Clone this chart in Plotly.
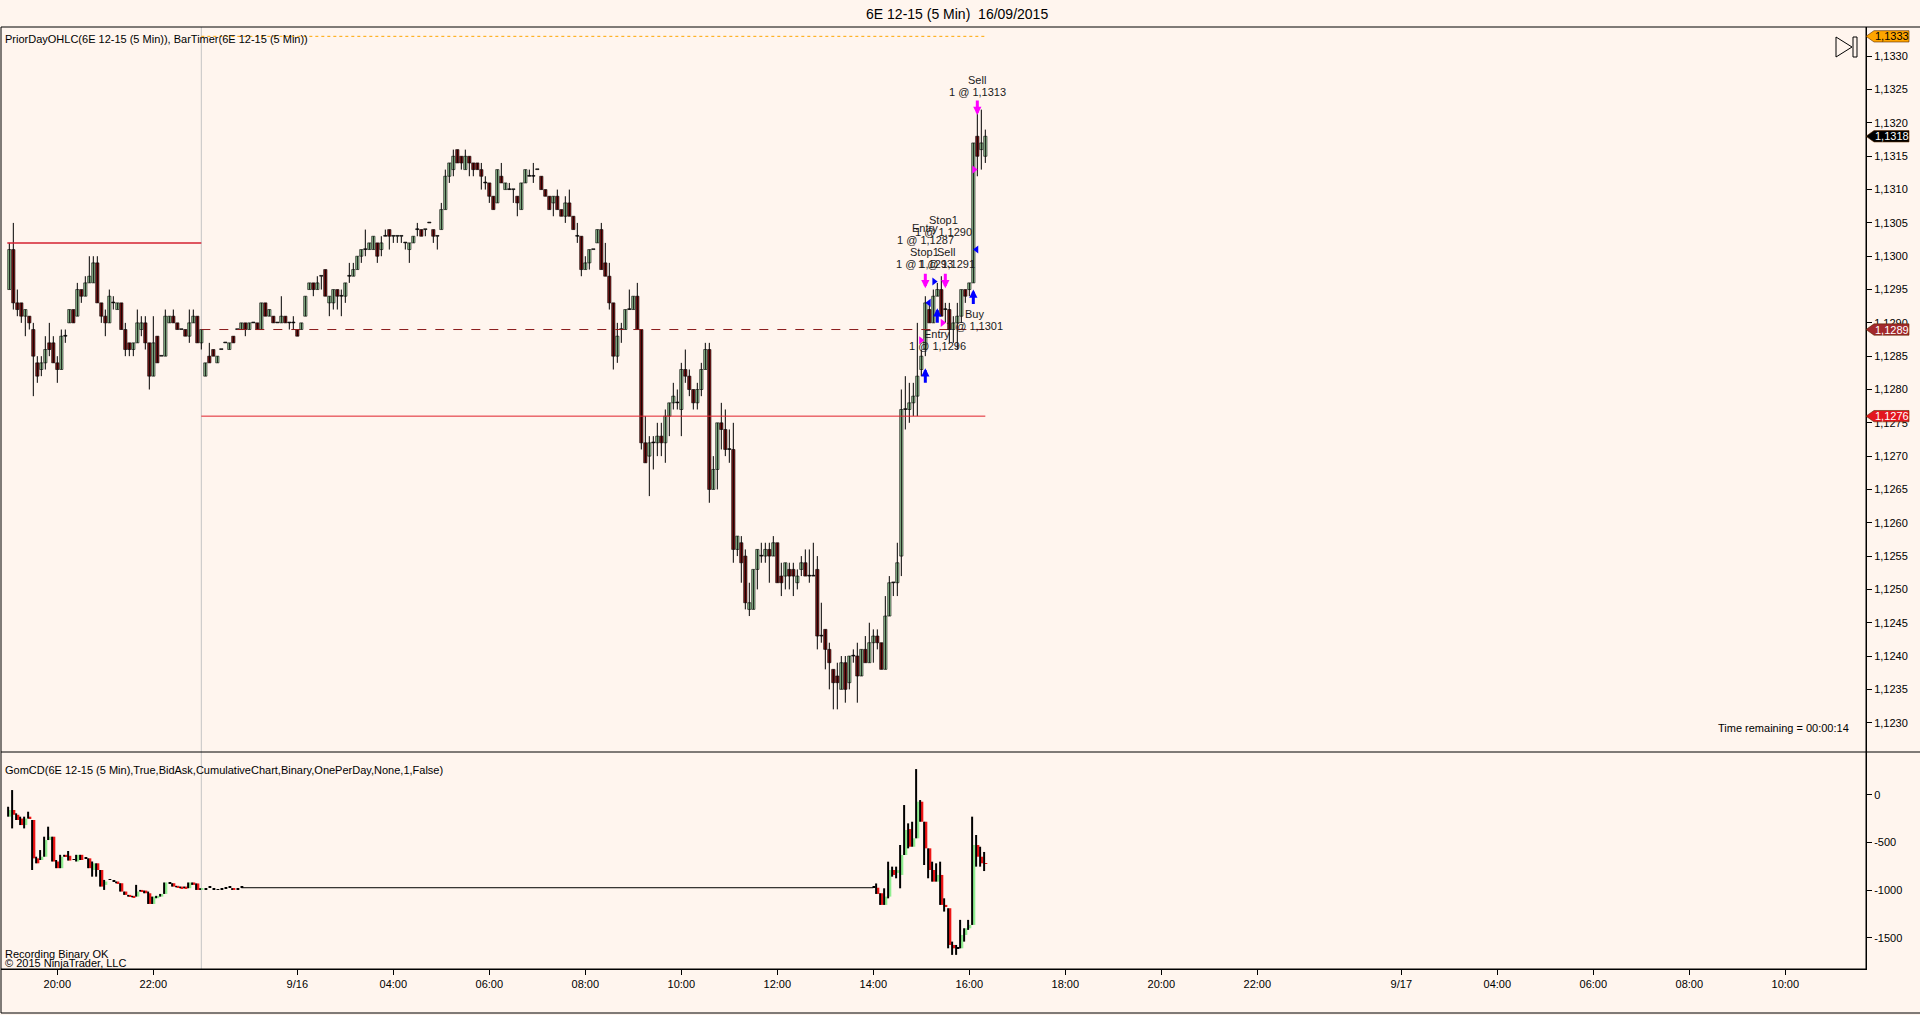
import plotly.graph_objects as go

# ---- main panel: 5 min candles of 6E 12-15, one entry per bar (bar index = position)
price_open = [
    1.1295, 1.1301, 1.1293, 1.1293, 1.1291, 1.1291, 1.1289, 1.1284, 1.1283, 1.1284,
    1.1287, 1.1287, 1.1284, 1.1283, 1.1288, 1.1290, 1.1292, 1.1291, 1.1295, 1.1294,
    1.1296, 1.1296, 1.1299, 1.1293, 1.1291, 1.1290, 1.1293, 1.1292, 1.1293, 1.1289,
    1.1287, 1.1286, 1.1287, 1.1289, 1.1290, 1.1287, 1.1282, 1.1288, 1.1285, 1.1285,
    1.1290, 1.1291, 1.1290, 1.1289, 1.1289, 1.1288, 1.1290, 1.1291, 1.1287, 1.1282,
    1.1285, 1.1286, 1.1284, 1.1286, 1.1287, 1.1286, 1.1288, 1.1289, 1.1289, 1.1290,
    1.1289, 1.1290, 1.1290, 1.1289, 1.1293, 1.1291, 1.1291, 1.1290, 1.1290, 1.1291,
    1.1290, 1.1290, 1.1289, 1.1289, 1.1291, 1.1295, 1.1296, 1.1295, 1.1297, 1.1298,
    1.1293, 1.1293, 1.1295, 1.1294, 1.1294, 1.1297, 1.1297, 1.1298, 1.1300, 1.1301,
    1.1301, 1.1301, 1.1302, 1.1301, 1.1303, 1.1304, 1.1303, 1.1303, 1.1303, 1.1302,
    1.1301, 1.1302, 1.1304, 1.1304, 1.1304, 1.1305, 1.1304, 1.1303, 1.1304, 1.1307,
    1.1312, 1.1313, 1.1316, 1.1315, 1.1313, 1.1315, 1.1314, 1.1314, 1.1313, 1.1311,
    1.1311, 1.1309, 1.1308, 1.1312, 1.1310, 1.1310, 1.1310, 1.1309, 1.1307, 1.1311,
    1.1312, 1.1312, 1.1313, 1.1312, 1.1310, 1.1309, 1.1308, 1.1309, 1.1307, 1.1306,
    1.1308, 1.1306, 1.1303, 1.1303, 1.1298, 1.1299, 1.1301, 1.1302, 1.1304, 1.1299,
    1.1297, 1.1293, 1.1285, 1.1289, 1.1289, 1.1292, 1.1292, 1.1294, 1.1289, 1.1272,
    1.1270, 1.1272, 1.1272, 1.1273, 1.1272, 1.1276, 1.1278, 1.1278, 1.1277, 1.1283,
    1.1282, 1.1280, 1.1278, 1.1280, 1.1283, 1.1286, 1.1265, 1.1268, 1.1275, 1.1274,
    1.1271, 1.1271, 1.1256, 1.1257, 1.1255, 1.1247, 1.1247, 1.1253, 1.1255, 1.1255,
    1.1256, 1.1255, 1.1257, 1.1252, 1.1252, 1.1253, 1.1253, 1.1251, 1.1253, 1.1254,
    1.1252, 1.1252, 1.1253, 1.1243, 1.1244, 1.1241, 1.1238, 1.1237, 1.1235, 1.1239,
    1.1236, 1.1240, 1.1240, 1.1237, 1.1241, 1.1239, 1.1242, 1.1243, 1.1242, 1.1238,
    1.1246, 1.1251, 1.1251, 1.1255, 1.1277, 1.1277, 1.1278, 1.1279, 1.1283, 1.1286,
    1.1292, 1.1290, 1.1294, 1.1295, 1.1292, 1.1292, 1.1289, 1.1290, 1.1291, 1.1295,
    1.1295, 1.1296, 1.1318, 1.1316, 1.1315,
]
price_high = [
    1.1302, 1.1305, 1.1295, 1.1293, 1.1292, 1.1291, 1.1290, 1.1285, 1.1285, 1.1288,
    1.1290, 1.1288, 1.1285, 1.1289, 1.1289, 1.1292, 1.1292, 1.1296, 1.1295, 1.1297,
    1.1300, 1.1300, 1.1300, 1.1293, 1.1292, 1.1295, 1.1294, 1.1293, 1.1293, 1.1290,
    1.1287, 1.1287, 1.1292, 1.1291, 1.1291, 1.1287, 1.1291, 1.1288, 1.1285, 1.1292,
    1.1291, 1.1292, 1.1290, 1.1289, 1.1289, 1.1292, 1.1292, 1.1291, 1.1289, 1.1284,
    1.1287, 1.1286, 1.1285, 1.1286, 1.1287, 1.1287, 1.1288, 1.1289, 1.1290, 1.1290,
    1.1290, 1.1290, 1.1290, 1.1293, 1.1293, 1.1292, 1.1291, 1.1290, 1.1294, 1.1291,
    1.1290, 1.1291, 1.1289, 1.1290, 1.1294, 1.1296, 1.1296, 1.1297, 1.1297, 1.1298,
    1.1294, 1.1295, 1.1295, 1.1295, 1.1296, 1.1299, 1.1299, 1.1300, 1.1301, 1.1304,
    1.1302, 1.1303, 1.1302, 1.1303, 1.1304, 1.1304, 1.1303, 1.1303, 1.1303, 1.1302,
    1.1302, 1.1303, 1.1305, 1.1304, 1.1304, 1.1305, 1.1304, 1.1303, 1.1308, 1.1313,
    1.1314, 1.1316, 1.1316, 1.1315, 1.1316, 1.1315, 1.1314, 1.1314, 1.1314, 1.1312,
    1.1311, 1.1309, 1.1313, 1.1314, 1.1311, 1.1311, 1.1310, 1.1309, 1.1311, 1.1313,
    1.1313, 1.1314, 1.1313, 1.1312, 1.1310, 1.1309, 1.1309, 1.1310, 1.1307, 1.1309,
    1.1310, 1.1306, 1.1305, 1.1303, 1.1300, 1.1301, 1.1301, 1.1304, 1.1305, 1.1302,
    1.1299, 1.1293, 1.1290, 1.1290, 1.1292, 1.1295, 1.1294, 1.1296, 1.1289, 1.1276,
    1.1273, 1.1273, 1.1275, 1.1275, 1.1277, 1.1278, 1.1281, 1.1280, 1.1284, 1.1286,
    1.1283, 1.1280, 1.1281, 1.1284, 1.1287, 1.1287, 1.1270, 1.1275, 1.1278, 1.1277,
    1.1274, 1.1275, 1.1258, 1.1258, 1.1256, 1.1251, 1.1253, 1.1256, 1.1257, 1.1257,
    1.1257, 1.1258, 1.1257, 1.1254, 1.1254, 1.1254, 1.1254, 1.1253, 1.1255, 1.1256,
    1.1256, 1.1257, 1.1255, 1.1248, 1.1244, 1.1242, 1.1238, 1.1239, 1.1240, 1.1240,
    1.1240, 1.1241, 1.1242, 1.1241, 1.1243, 1.1245, 1.1244, 1.1244, 1.1242, 1.1249,
    1.1252, 1.1251, 1.1257, 1.1280, 1.1282, 1.1281, 1.1281, 1.1290, 1.1286, 1.1294,
    1.1293, 1.1295, 1.1296, 1.1297, 1.1293, 1.1293, 1.1291, 1.1293, 1.1295, 1.1295,
    1.1296, 1.1317, 1.1323, 1.1322, 1.1319,
]
price_low = [
    1.1295, 1.1292, 1.1291, 1.1290, 1.1288, 1.1289, 1.1279, 1.1281, 1.1282, 1.1283,
    1.1285, 1.1284, 1.1281, 1.1283, 1.1287, 1.1290, 1.1290, 1.1291, 1.1293, 1.1294,
    1.1296, 1.1296, 1.1293, 1.1290, 1.1288, 1.1290, 1.1292, 1.1292, 1.1289, 1.1285,
    1.1285, 1.1285, 1.1287, 1.1288, 1.1286, 1.1280, 1.1282, 1.1284, 1.1285, 1.1285,
    1.1290, 1.1290, 1.1289, 1.1289, 1.1288, 1.1287, 1.1290, 1.1287, 1.1286, 1.1282,
    1.1284, 1.1285, 1.1284, 1.1286, 1.1287, 1.1286, 1.1287, 1.1289, 1.1289, 1.1288,
    1.1289, 1.1290, 1.1289, 1.1289, 1.1291, 1.1291, 1.1290, 1.1290, 1.1290, 1.1290,
    1.1289, 1.1289, 1.1288, 1.1289, 1.1291, 1.1295, 1.1294, 1.1295, 1.1295, 1.1294,
    1.1291, 1.1292, 1.1292, 1.1291, 1.1293, 1.1296, 1.1297, 1.1298, 1.1299, 1.1300,
    1.1301, 1.1301, 1.1299, 1.1300, 1.1303, 1.1301, 1.1302, 1.1302, 1.1302, 1.1301,
    1.1299, 1.1302, 1.1303, 1.1303, 1.1303, 1.1305, 1.1302, 1.1301, 1.1304, 1.1307,
    1.1311, 1.1312, 1.1314, 1.1313, 1.1313, 1.1312, 1.1312, 1.1313, 1.1310, 1.1310,
    1.1308, 1.1307, 1.1308, 1.1311, 1.1310, 1.1310, 1.1308, 1.1306, 1.1307, 1.1311,
    1.1312, 1.1311, 1.1313, 1.1310, 1.1309, 1.1307, 1.1306, 1.1307, 1.1306, 1.1305,
    1.1306, 1.1304, 1.1302, 1.1297, 1.1298, 1.1298, 1.1301, 1.1302, 1.1298, 1.1297,
    1.1292, 1.1283, 1.1284, 1.1287, 1.1289, 1.1292, 1.1292, 1.1289, 1.1271, 1.1269,
    1.1264, 1.1268, 1.1270, 1.1270, 1.1269, 1.1273, 1.1277, 1.1277, 1.1273, 1.1281,
    1.1279, 1.1277, 1.1277, 1.1279, 1.1283, 1.1263, 1.1265, 1.1265, 1.1271, 1.1270,
    1.1269, 1.1254, 1.1255, 1.1251, 1.1247, 1.1246, 1.1247, 1.1250, 1.1254, 1.1254,
    1.1251, 1.1255, 1.1251, 1.1249, 1.1250, 1.1250, 1.1249, 1.1250, 1.1252, 1.1252,
    1.1251, 1.1252, 1.1241, 1.1242, 1.1238, 1.1235, 1.1232, 1.1232, 1.1235, 1.1233,
    1.1235, 1.1239, 1.1233, 1.1237, 1.1239, 1.1239, 1.1239, 1.1241, 1.1238, 1.1238,
    1.1246, 1.1249, 1.1249, 1.1252, 1.1274, 1.1275, 1.1276, 1.1276, 1.1282, 1.1285,
    1.1290, 1.1290, 1.1294, 1.1291, 1.1290, 1.1287, 1.1287, 1.1286, 1.1290, 1.1293,
    1.1294, 1.1296, 1.1312, 1.1313, 1.1314,
]
price_close = [
    1.1301, 1.1293, 1.1292, 1.1291, 1.1292, 1.1290, 1.1285, 1.1282, 1.1284, 1.1286,
    1.1286, 1.1284, 1.1283, 1.1288, 1.1288, 1.1292, 1.1290, 1.1295, 1.1294, 1.1296,
    1.1297, 1.1299, 1.1293, 1.1291, 1.1290, 1.1294, 1.1293, 1.1293, 1.1289, 1.1286,
    1.1286, 1.1287, 1.1290, 1.1290, 1.1287, 1.1282, 1.1287, 1.1284, 1.1285, 1.1291,
    1.1291, 1.1290, 1.1289, 1.1289, 1.1288, 1.1290, 1.1291, 1.1287, 1.1289, 1.1284,
    1.1284, 1.1285, 1.1285, 1.1286, 1.1287, 1.1287, 1.1287, 1.1289, 1.1290, 1.1289,
    1.1290, 1.1290, 1.1289, 1.1293, 1.1291, 1.1292, 1.1290, 1.1290, 1.1291, 1.1290,
    1.1290, 1.1290, 1.1288, 1.1290, 1.1294, 1.1296, 1.1295, 1.1296, 1.1297, 1.1294,
    1.1294, 1.1295, 1.1294, 1.1294, 1.1296, 1.1297, 1.1298, 1.1300, 1.1301, 1.1301,
    1.1302, 1.1303, 1.1300, 1.1302, 1.1303, 1.1303, 1.1303, 1.1303, 1.1303, 1.1302,
    1.1302, 1.1303, 1.1304, 1.1303, 1.1304, 1.1305, 1.1303, 1.1303, 1.1307, 1.1312,
    1.1314, 1.1315, 1.1314, 1.1314, 1.1315, 1.1314, 1.1313, 1.1313, 1.1312, 1.1311,
    1.1309, 1.1307, 1.1313, 1.1311, 1.1311, 1.1310, 1.1310, 1.1308, 1.1311, 1.1313,
    1.1312, 1.1312, 1.1313, 1.1310, 1.1309, 1.1307, 1.1309, 1.1307, 1.1306, 1.1308,
    1.1306, 1.1304, 1.1303, 1.1298, 1.1299, 1.1301, 1.1301, 1.1304, 1.1298, 1.1297,
    1.1293, 1.1285, 1.1288, 1.1289, 1.1292, 1.1292, 1.1294, 1.1289, 1.1272, 1.1269,
    1.1272, 1.1272, 1.1273, 1.1272, 1.1276, 1.1278, 1.1279, 1.1278, 1.1283, 1.1282,
    1.1280, 1.1278, 1.1280, 1.1283, 1.1286, 1.1265, 1.1268, 1.1275, 1.1274, 1.1271,
    1.1271, 1.1256, 1.1258, 1.1254, 1.1248, 1.1248, 1.1253, 1.1256, 1.1255, 1.1256,
    1.1255, 1.1257, 1.1251, 1.1251, 1.1254, 1.1252, 1.1252, 1.1252, 1.1254, 1.1252,
    1.1252, 1.1252, 1.1243, 1.1243, 1.1241, 1.1239, 1.1236, 1.1236, 1.1239, 1.1235,
    1.1240, 1.1240, 1.1237, 1.1241, 1.1239, 1.1242, 1.1243, 1.1242, 1.1238, 1.1246,
    1.1251, 1.1251, 1.1254, 1.1277, 1.1277, 1.1278, 1.1279, 1.1282, 1.1285, 1.1293,
    1.1290, 1.1294, 1.1295, 1.1291, 1.1292, 1.1289, 1.1290, 1.1291, 1.1295, 1.1294,
    1.1296, 1.1317, 1.1315, 1.1317, 1.1318,
]

# ---- lower panel: GomCD cumulative delta (bars with recorded data only)
cd_bars = list(range(0, 59)) + list(range(216, 245))
cd_open = [
    -230, -160, -210, -250, -318, -230, -265, -667, -684, -650,
    -475, -440, -700, -770, -630, -640, -684, -700, -630, -667,
    -667, -789, -719, -789, -945, -893, -910, -910, -928, -1015,
    -1050, -1060, -1068, -998, -1005, -1033, -1145, -1085, -1068, -1040,
    -928, -928, -955, -963, -963, -980, -920, -930, -998, -990,
    -970, -990, -998, -990, -985, -975, -980, -990, -970,
    -975, -975, -1033, -1155, -1068, -789, -820, -841, -632, -360,
    -545, -457, -73, -283, -562, -789, -911, -841, -1155, -1190,
    -1575, -1610, -1610, -1470, -1400, -1365, -527, -650, -719,
]
cd_high = [
    -126, 49, -195, -230, -230, -178, -265, -650, -580, -440,
    -335, -440, -684, -630, -630, -590, -684, -630, -630, -667,
    -667, -700, -719, -789, -893, -893, -910, -910, -928, -1015,
    -1050, -1060, -945, -998, -1005, -1015, -1068, -1060, -1040, -920,
    -928, -928, -955, -963, -963, -920, -920, -930, -980, -990,
    -970, -990, -998, -990, -985, -975, -980, -990, -970,
    -975, -930, -1033, -981, -702, -754, -754, -527, -108, -300,
    -283, 269, -56, -283, -562, -702, -719, -702, -1086, -1190,
    -1540, -1575, -1312, -1400, -1312, -230, -422, -545, -600,
]
cd_low = [
    -230, -353, -265, -318, -353, -250, -789, -719, -684, -650,
    -475, -700, -770, -770, -650, -690, -684, -700, -684, -667,
    -770, -859, -859, -963, -998, -893, -910, -928, -1015, -1050,
    -1068, -1075, -1068, -1015, -1033, -1145, -1145, -1085, -1068, -1040,
    -928, -963, -970, -980, -980, -980, -945, -998, -998, -990,
    -970, -990, -998, -990, -985, -975, -998, -990, -970,
    -975, -1040, -1155, -1155, -1086, -859, -876, -981, -632, -562,
    -545, -457, -283, -737, -876, -911, -911, -1155, -1225, -1610,
    -1679, -1679, -1610, -1540, -1417, -1365, -754, -754, -800,
]
cd_close = [
    -160, -210, -265, -318, -250, -250, -667, -719, -650, -475,
    -440, -700, -770, -650, -650, -690, -684, -630, -684, -667,
    -770, -719, -789, -963, -910, -893, -910, -928, -1015, -1050,
    -1068, -1075, -1015, -1015, -1033, -1145, -1068, -1060, -1040, -920,
    -928, -963, -970, -980, -980, -920, -945, -998, -980, -990,
    -970, -990, -998, -990, -985, -975, -998, -990, -970,
    -975, -1040, -1155, -1068, -789, -841, -790, -632, -370, -545,
    -457, -73, -283, -562, -789, -911, -841, -1155, -1172, -1575,
    -1610, -1610, -1470, -1400, -1365, -527, -650, -719, -725,
]
# flat (unrecorded) stretch of the delta
cd_flat_level = -975
cd_flat_bars = [58, 216]

# ---- time axis
x_tick_bars = [12, 36, 72, 96, 120, 144, 168, 192, 216, 240, 264, 288, 312, 348, 372, 396, 420, 444]
x_tick_labels = ["20:00", "22:00", "9/16", "04:00", "06:00", "08:00", "10:00", "12:00", "14:00",
                 "16:00", "18:00", "20:00", "22:00", "9/17", "04:00", "06:00", "08:00", "10:00"]
session_start_bar = 48
last_bar = 244

# ---- prior day OHLC levels
prev_high_day1 = 1.1302
prior_high = 1.1333
prior_close = 1.1289
prior_low = 1.1276
last_price = 1.1318

price_ticks = [1.1230 + i * 0.0005 for i in range(21)]
cd_ticks = [0, -500, -1000, -1500]

# ---- executions
sell_arrow_x = [229, 234, 242]
sell_arrow_y = [1.12952, 1.12952, 1.13212]
buy_arrow_x = [229, 232, 241]
buy_arrow_y = [1.12832, 1.12922, 1.12950]
exec_x = [241.2, 233.3, 227.9, 231.2, 229.9, 241.8]
exec_y = [1.1313, 1.1290, 1.12874, 1.12962, 1.1293, 1.1301]
exec_side = ["sell", "sell", "sell", "buy", "buy", "buy"]
exec_symbol = ["triangle-right", "triangle-right", "triangle-right",
               "triangle-right", "triangle-left", "triangle-left"]
trade_label_x = [242, 233.5, 229, 228.7, 234.2, 241.2, 232]
trade_label_y = [1.13255, 1.13045, 1.13033, 1.12997, 1.12997, 1.12905, 1.12875]
trade_label_name = ["Sell", "Stop1", "Entry", "Stop1", "Sell", "Buy", "Entry"]
trade_label_price = [1.1313, 1.1290, 1.1287, 1.1293, 1.1291, 1.1301, 1.1296]


W, H = 1920, 1015
ML, MR, MT, MB = 1, 54, 27, 46
PW, PH = W - ML - MR, H - MT - MB
FONT = "Liberation Sans, Arial, sans-serif"
BG = "#FFF5EE"
UP_FILL, DOWN_FILL = "#A8DCA8", "#8E1A1A"
CD_UP, CD_DOWN = "#90EE90", "#EE1515"
MAGENTA, BLUE = "#FF00FF", "#0000FF"


def px_x(px):
    return (px - ML) / PW


def px_y(py):
    return (H - MB - py) / PH


def comma(p):
    return f"{p:.4f}".replace(".", ",")


SPLIT = px_y(752)

bars = list(range(len(price_close)))

fig = go.Figure()

# main panel wicks and bodies
wx, wy = [], []
for k, lo, hi in zip(bars, price_low, price_high):
    wx += [k, k, None]
    wy += [lo, hi, None]
fig.add_trace(go.Scatter(x=wx, y=wy, mode="lines", line=dict(color="black", width=1),
                         yaxis="y", hoverinfo="skip"))

body_base = [min(o, c) for o, c in zip(price_open, price_close)]
body_h = [max(abs(c - o), 0.000012) for o, c in zip(price_open, price_close)]
body_col = [UP_FILL if c > o else (DOWN_FILL if c < o else "black")
            for o, c in zip(price_open, price_close)]
fig.add_trace(go.Bar(x=bars, y=body_h, base=body_base, width=0.82, yaxis="y",
                     marker=dict(color=body_col, line=dict(color="black", width=0.6)),
                     hoverinfo="skip"))

# lower panel: flat delta line, wicks, bodies
fig.add_trace(go.Scatter(x=cd_flat_bars, y=[cd_flat_level] * 2, mode="lines",
                         line=dict(color="black", width=1), yaxis="y2", hoverinfo="skip"))
cwx, cwy = [], []
for k, lo, hi in zip(cd_bars, cd_low, cd_high):
    cwx += [k - 0.3, k - 0.3, None]
    cwy += [lo, hi, None]
fig.add_trace(go.Scatter(x=cwx, y=cwy, mode="lines", line=dict(color="black", width=2),
                         yaxis="y2", hoverinfo="skip"))
cd_base = [min(o, c) for o, c in zip(cd_open, cd_close)]
cd_h = [max(abs(c - o), 8) for o, c in zip(cd_open, cd_close)]
cd_col = [CD_UP if c > o else (CD_DOWN if c < o else "black") for o, c in zip(cd_open, cd_close)]
fig.add_trace(go.Bar(x=[k + 0.15 for k in cd_bars], y=cd_h, base=cd_base, width=0.7, yaxis="y2",
                     marker=dict(color=cd_col, line=dict(width=0)), hoverinfo="skip"))

# execution markers
fig.add_trace(go.Scatter(
    x=exec_x, y=exec_y, mode="markers", yaxis="y", hoverinfo="skip",
    marker=dict(symbol=exec_symbol, size=7,
                color=[MAGENTA if s == "sell" else BLUE for s in exec_side]),
))

shapes = [
    # panel borders
    dict(type="line", xref="paper", yref="paper", x0=0, x1=px_x(W), y0=1, y1=1,
         line=dict(color="black", width=1)),
    dict(type="line", xref="paper", yref="paper", x0=0, x1=px_x(W), y0=SPLIT, y1=SPLIT,
         line=dict(color="black", width=1)),
    dict(type="line", xref="paper", yref="paper", x0=0, x1=1, y0=0, y1=0,
         line=dict(color="black", width=1)),
    dict(type="line", xref="paper", yref="paper", x0=0, x1=0, y0=px_y(1013), y1=1,
         line=dict(color="black", width=1)),
    dict(type="line", xref="paper", yref="paper", x0=1, x1=1, y0=0, y1=1,
         line=dict(color="black", width=1)),
    dict(type="line", xref="paper", yref="paper", x0=0, x1=px_x(W), y0=px_y(1013), y1=px_y(1013),
         line=dict(color="black", width=1)),
    # session start
    dict(type="line", xref="x", yref="paper", x0=session_start_bar, x1=session_start_bar,
         y0=0, y1=1, line=dict(color="#C4C4C4", width=1), layer="below"),
    # prior day levels
    dict(type="line", xref="x", yref="y", x0=-0.5, x1=session_start_bar, y0=prev_high_day1,
         y1=prev_high_day1, line=dict(color="#D42030", width=1.5)),
    dict(type="line", xref="x", yref="y", x0=session_start_bar, x1=last_bar, y0=prior_high,
         y1=prior_high, line=dict(color="#FFA500", width=1, dash="dot")),
    dict(type="line", xref="x", yref="y", x0=session_start_bar, x1=last_bar, y0=prior_low,
         y1=prior_low, line=dict(color="#E0202A", width=1)),
    dict(type="line", xref="x", yref="y", x0=session_start_bar, x1=last_bar, y0=prior_close,
         y1=prior_close, line=dict(color="#8B1C1C", width=1, dash="dash")),
    # scroll-to-end icon
    dict(type="path", xref="paper", yref="paper",
         path=f"M {px_x(1836)},{px_y(37)} L {px_x(1852)},{px_y(47)} L {px_x(1836)},{px_y(57)} Z",
         line=dict(color="black", width=1), fillcolor="rgba(0,0,0,0)"),
    dict(type="rect", xref="paper", yref="paper", x0=px_x(1853), x1=px_x(1857),
         y0=px_y(57), y1=px_y(37), line=dict(color="black", width=1)),
]

annotations = [
    dict(text="PriorDayOHLC(6E 12-15 (5 Min)), BarTimer(6E 12-15 (5 Min))", xref="paper", yref="paper",
         x=px_x(3), y=px_y(39), xanchor="left", yanchor="middle", showarrow=False,
         font=dict(size=11, color="black")),
    dict(text="GomCD(6E 12-15 (5 Min),True,BidAsk,CumulativeChart,Binary,OnePerDay,None,1,False)",
         xref="paper", yref="paper", x=px_x(3), y=px_y(770), xanchor="left", yanchor="middle",
         showarrow=False, font=dict(size=11, color="black")),
    dict(text="Recording Binary OK", xref="paper", yref="paper", x=px_x(3), y=px_y(954),
         xanchor="left", yanchor="middle", showarrow=False, font=dict(size=11, color="black")),
    dict(text="© 2015 NinjaTrader, LLC", xref="paper", yref="paper", x=px_x(3), y=px_y(963),
         xanchor="left", yanchor="middle", showarrow=False, font=dict(size=11, color="black")),
    dict(text="Time remaining = 00:00:14", xref="paper", yref="paper", x=px_x(1851), y=px_y(728),
         xanchor="right", yanchor="middle", showarrow=False, font=dict(size=11, color="black")),
]

# price boxes on the right axis
mark_prices = [prior_high, last_price, prior_close, prior_low]
mark_fill = ["#FFA500", "#000000", "#A3282C", "#E3161E"]
mark_text = ["black", "white", "white", "white"]
hb = 0.000085
for p, fc, tc in zip(mark_prices, mark_fill, mark_text):
    shapes.append(dict(
        type="path", xref="paper", yref="y", fillcolor=fc, line=dict(color="#5a2a00", width=0.6),
        path=(f"M {px_x(1866)},{p} L {px_x(1874)},{p + hb} L {px_x(1909)},{p + hb} "
              f"L {px_x(1909)},{p - hb} L {px_x(1874)},{p - hb} Z"),
    ))
    annotations.append(dict(text=comma(p), xref="paper", yref="y", x=px_x(1892), y=p,
                            xanchor="center", yanchor="middle", showarrow=False,
                            font=dict(size=11, color=tc)))

# trade arrows (shaft + head)
for x, y in zip(sell_arrow_x, sell_arrow_y):
    annotations.append(dict(x=x, y=y, xref="x", yref="y", text="", showarrow=True, ax=0, ay=-16,
                            arrowhead=2, arrowsize=0.55, arrowwidth=3, arrowcolor=MAGENTA))
for x, y in zip(buy_arrow_x, buy_arrow_y):
    annotations.append(dict(x=x, y=y, xref="x", yref="y", text="", showarrow=True, ax=0, ay=16,
                            arrowhead=2, arrowsize=0.55, arrowwidth=3, arrowcolor=BLUE))

# trade labels
for x, y, name, p in zip(trade_label_x, trade_label_y, trade_label_name, trade_label_price):
    annotations.append(dict(x=x, y=y, xref="x", yref="y", text=name, showarrow=False,
                            yshift=6, font=dict(size=11, color="#1a1a1a")))
    annotations.append(dict(x=x, y=y, xref="x", yref="y", text=f"1 @ {comma(p)}", showarrow=False,
                            yshift=-6, font=dict(size=11, color="#1a1a1a")))

fig.update_layout(
    width=W, height=H,
    margin=dict(l=ML, r=MR, t=MT, b=MB),
    paper_bgcolor=BG, plot_bgcolor=BG,
    font=dict(family=FONT, size=11, color="black"),
    showlegend=False, hovermode=False, barmode="overlay",
    title=dict(text="6E 12-15 (5 Min)\u00a0 16/09/2015", x=0.4985, xref="container",
               y=1 - 14 / H, yref="container", yanchor="middle", xanchor="center",
               font=dict(size=14, color="black", family=FONT)),
    xaxis=dict(range=[-2.08, 464.17], anchor="y2", tickvals=x_tick_bars, ticktext=x_tick_labels,
               ticks="outside", ticklen=5, tickcolor="black", showgrid=False, zeroline=False,
               showline=True, linecolor="black", tickfont=dict(size=11)),
    yaxis=dict(domain=[SPLIT, 1], range=[1.12256, 1.13344], side="right", anchor="x",
               tickvals=price_ticks, ticktext=[comma(p) for p in price_ticks],
               ticks="outside", ticklen=5, tickcolor="black", showgrid=False, zeroline=False,
               showline=True, linecolor="black", tickfont=dict(size=11)),
    yaxis2=dict(domain=[0, SPLIT], range=[-1827, 448], side="right", anchor="x",
                tickvals=cd_ticks, ticktext=[str(v) for v in cd_ticks],
                ticks="outside", ticklen=5, tickcolor="black", showgrid=False, zeroline=False,
                showline=True, linecolor="black", tickfont=dict(size=11)),
    shapes=shapes,
    annotations=annotations,
)

fig.write_html("out.html", config={"displayModeBar": False},
               post_script="document.body.style.margin='0';document.body.style.overflow='hidden';")
